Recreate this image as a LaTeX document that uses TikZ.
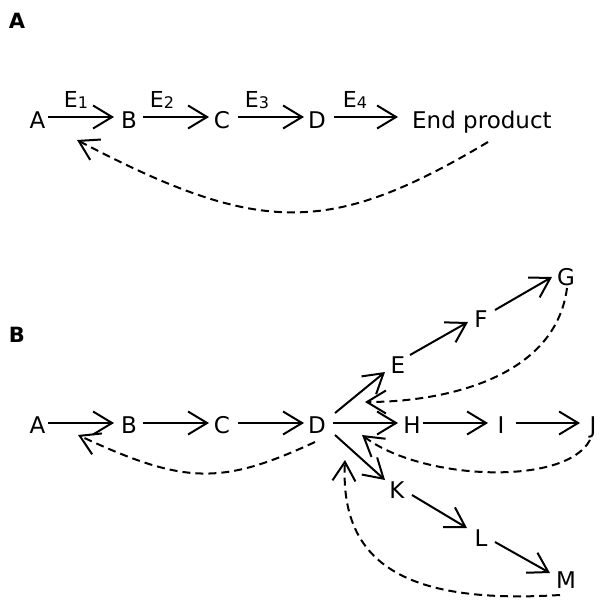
\documentclass[tikz,border=0pt]{standalone}
\usepackage{fontspec}
\setmainfont{DejaVu Sans}
\usetikzlibrary{arrows.meta}
\newcommand{\sub}[1]{\raisebox{-1pt}{\fontsize{16pt}{16pt}\selectfont #1}}
\begin{document}
\begin{tikzpicture}[x=1pt,y=-1pt,
  lbl/.style={inner sep=0pt,text height=16.5pt,text depth=0pt,font=\fontsize{23pt}{27pt}\selectfont},
  elbl/.style={inner sep=0pt,font=\fontsize{22pt}{26pt}\selectfont},
  panel/.style={inner sep=0pt,font=\fontsize{21pt}{25pt}\selectfont\bfseries},
  arr/.style={line width=2pt,-{Straight Barb[length=19pt,width=23pt,line width=2pt]}},
  back/.style={arr,dash pattern=on 8pt off 5pt}]
\useasboundingbox (0,0) rectangle (599,601);
% ---------- Panel A ----------
\node[panel] (pA) at (17,21) {A};
\node[lbl] (a1) at (37.5,120) {A};
\node[lbl] (a2) at (129,120) {B};
\node[lbl] (a3) at (222,120) {C};
\node[lbl] (a4) at (317,120) {D};
\node[lbl,anchor=west] (a5) at (412,120) {End product};
\node[elbl] (e1) at (76,100) {E\sub{1}};
\node[elbl] (e2) at (162,100) {E\sub{2}};
\node[elbl] (e3) at (257,100) {E\sub{3}};
\node[elbl] (e4) at (355,100) {E\sub{4}};
\draw[arr] ([shift={(10.5,-3)}]a1.center) -- ([shift={(-15,-3)}]a2.center);
\draw[arr] ([shift={(14,-3)}]a2.center) -- ([shift={(-13,-3)}]a3.center);
\draw[arr] ([shift={(16,-3)}]a3.center) -- ([shift={(-13,-3)}]a4.center);
\draw[arr] ([shift={(17,-3)}]a4.center) -- ([shift={(-14,-3)}]a5.west);
\draw[back] ([shift={(76,22)}]a5.west) .. controls +(-158,94) and +(183,96) .. ([shift={(39.5,20)}]a1.center);
% ---------- Panel B ----------
\node[panel] (pB) at (17,335) {B};
\node[lbl] (b1) at (37.5,425) {A};
\node[lbl] (b2) at (129,425) {B};
\node[lbl] (b3) at (222,425) {C};
\node[lbl] (b4) at (317,425) {D};
\node[lbl] (bE) at (398,365) {E};
\node[lbl] (bF) at (481,319) {F};
\node[lbl] (bG) at (566,277) {G};
\node[lbl] (bH) at (412,425) {H};
\node[lbl] (bI) at (501,425) {I};
\node[lbl] (bJ) at (593,425) {J};
\node[lbl] (bK) at (397,490) {K};
\node[lbl] (bL) at (481,538) {L};
\node[lbl] (bM) at (566,580) {M};
\draw[arr] ([shift={(10.5,-2)}]b1.center) -- ([shift={(-15,-2)}]b2.center);
\draw[arr] ([shift={(14,-2)}]b2.center) -- ([shift={(-13,-2)}]b3.center);
\draw[arr] ([shift={(16,-2)}]b3.center) -- ([shift={(-13,-2)}]b4.center);
\draw[arr] ([shift={(16,-2)}]b4.center) -- ([shift={(-14,-2)}]bH.center);
\draw[arr] ([shift={(11,-2)}]bH.center) -- ([shift={(-13,-2)}]bI.center);
\draw[arr] ([shift={(15,-2)}]bI.center) -- ([shift={(-13,-2)}]bJ.center);
\draw[arr] ([shift={(18,-12)}]b4.center) -- ([shift={(-13,7)}]bE.center);
\draw[arr] ([shift={(12,-10)}]bE.center) -- ([shift={(-13,3)}]bF.center);
\draw[arr] ([shift={(14,-9)}]bF.center) -- ([shift={(-14,0)}]bG.center);
\draw[arr] ([shift={(18,10)}]b4.center) -- ([shift={(-12,-10)}]bK.center);
\draw[arr] ([shift={(15,5)}]bK.center) -- ([shift={(-14,-10)}]bL.center);
\draw[arr] ([shift={(14,4)}]bL.center) -- ([shift={(-16,-7)}]bM.center);
\draw[back] ([shift={(-2,17)}]b4.center) .. controls +(-93,43) and +(107,50) .. ([shift={(40.5,10)}]b1.center);
\draw[back] ([shift={(1,11)}]bG.center) .. controls +(-12,92) and +(75,0) .. ([shift={(48,-23)}]b4.center);
\draw[back] ([shift={(-3,15)}]bJ.center) .. controls +(-25,47) and +(58,45) .. ([shift={(45,10)}]b4.center);
\draw[back] ([shift={(-6,15)}]bM.center) .. controls +(-160,10) and +(-5,100) .. ([shift={(28,35)}]b4.center);
\end{tikzpicture}
\end{document}
